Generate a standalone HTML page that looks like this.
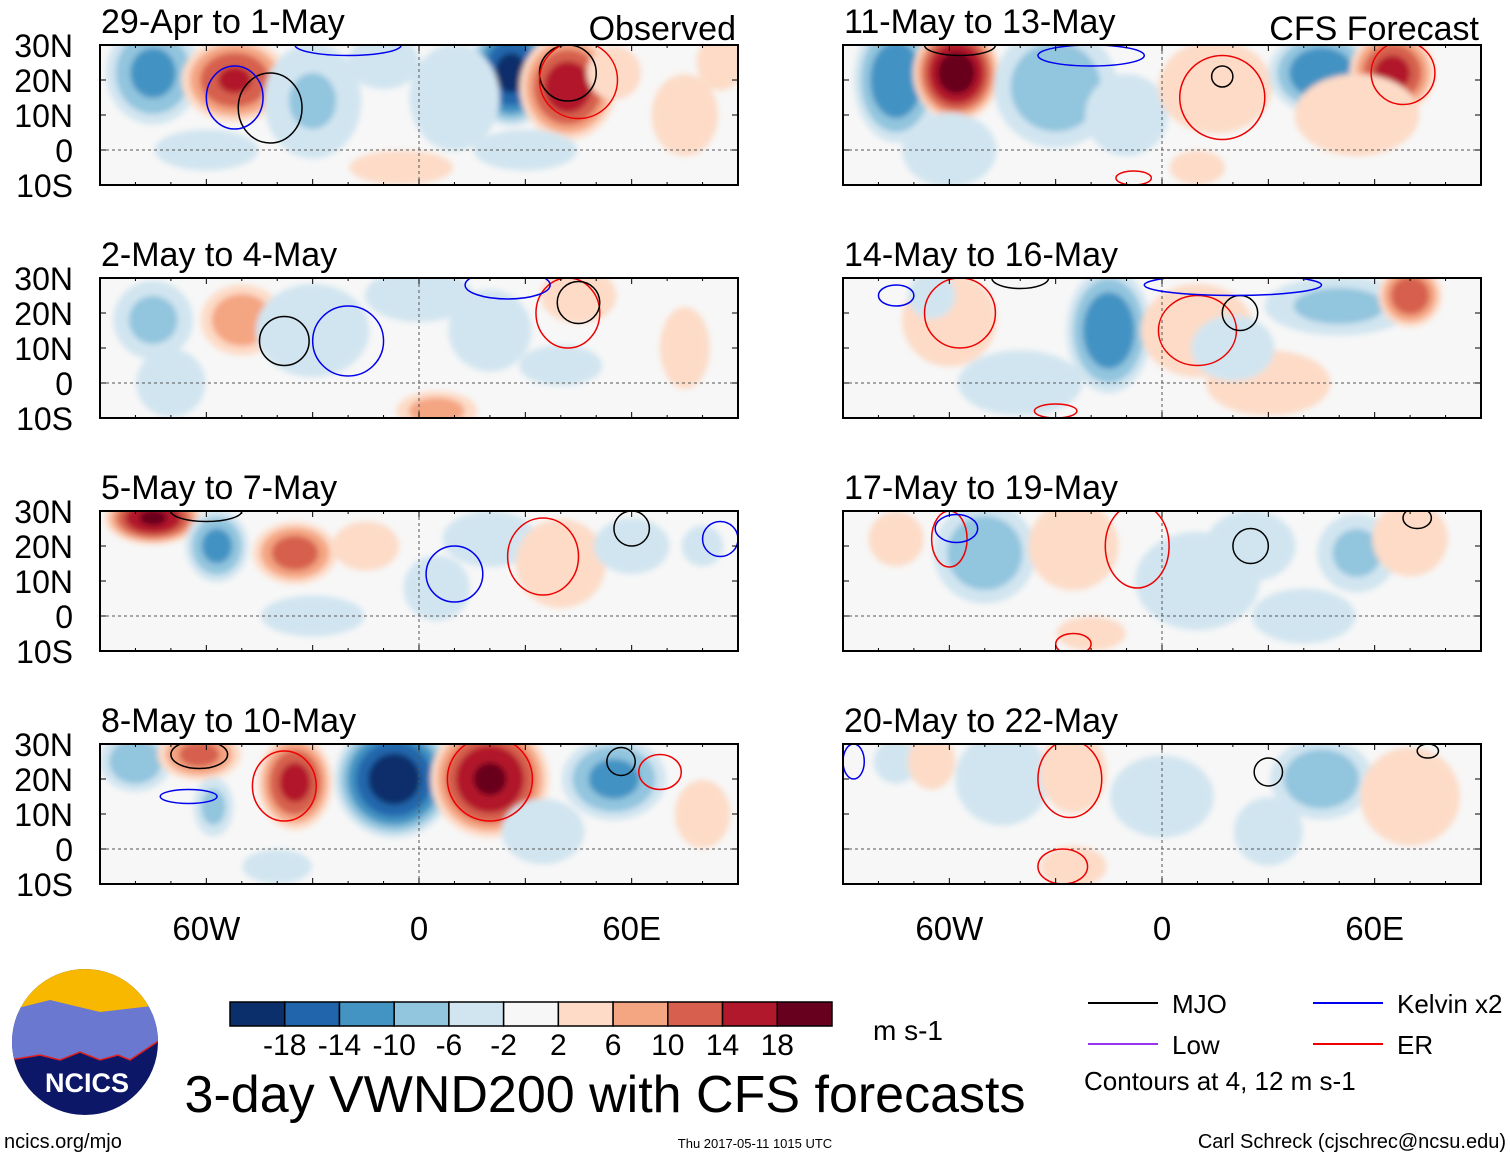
<!DOCTYPE html>
<html><head><meta charset="utf-8">
<style>
body{margin:0;background:#fff;width:1510px;height:1158px;overflow:hidden;font-family:"Liberation Sans",sans-serif;}
svg text{font-family:"Liberation Sans",sans-serif;}
</style></head>
<body>
<svg id="chart" width="1510" height="1158" viewBox="0 0 1510 1158" xmlns="http://www.w3.org/2000/svg">
<defs><filter id="blur" x="-20%" y="-20%" width="140%" height="140%"><feGaussianBlur stdDeviation="3"/></filter></defs>
<g id="panels"></g>
<g id="footer"></g>
</svg>
<script>
const panelTitles=["29-Apr to 1-May","2-May to 4-May","5-May to 7-May","8-May to 10-May","11-May to 13-May","14-May to 16-May","17-May to 19-May","20-May to 22-May"];
// blobs: [lon, lat, value(m/s), radiusLon(deg), radiusLat(deg)]
const blobs0=[[-75,22,-12,9,10],[-52,20,15,10,8],[-30,14,-7,10,12],[-10,25,-5,8,6],[26,22,-20,8,10],[10,15,-5,10,12],[42,18,17,9,10],[55,22,5,6,6],[85,25,6,5,6],[75,10,4,8,10],[-5,-5,3,15,5],[-60,0,-3,15,6],[30,0,-3,15,6]];
const blobs1=[[-75,18,-8,8,8],[-50,18,10,8,7],[-30,15,-6,12,10],[0,25,-5,12,6],[20,15,-4,10,10],[45,25,6,8,6],[5,-8,9,8,4],[-70,0,-3,10,10],[75,10,4,6,10],[40,5,-3,12,6]];
const blobs2=[[-75,28,19,9,5],[-57,20,-12,6,7],[-35,18,13,8,6],[-15,20,4,8,6],[20,22,-6,10,6],[40,15,5,10,10],[60,20,-6,8,6],[5,8,-4,8,8],[80,20,-3,6,6],[-30,0,-3,15,6]];
const blobs3=[[-80,25,-10,7,6],[-62,27,12,8,5],[-58,12,-8,4,6],[-35,19,16,7,9],[-7,20,-21,11,11],[20,20,19,11,11],[55,20,-12,10,8],[35,5,-4,10,8],[-40,-5,-3,10,5],[80,10,3,8,10]];
const blobs4=[[-75,20,-14,8,12],[-58,22,21,8,9],[-30,18,-10,12,12],[-10,10,-4,10,10],[15,18,6,12,10],[45,22,-14,10,8],[65,22,16,8,8],[55,10,4,15,10],[-60,0,-6,10,8],[10,-5,3,8,5]];
const blobs5=[[-60,18,6,10,10],[-65,25,-6,5,5],[-15,15,-14,8,12],[10,15,6,12,10],[50,22,-8,15,6],[70,25,14,6,6],[-40,0,-4,15,8],[30,0,4,15,8],[20,10,-4,10,8]];
const blobs6=[[-75,22,3,8,8],[-50,18,-10,10,10],[-25,20,5,10,10],[10,10,-4,15,12],[25,20,-5,10,8],[55,18,-8,8,8],[70,22,6,8,8],[-20,-5,3,10,5],[40,0,-3,15,8]];
const blobs7=[[-75,25,-5,5,5],[-65,25,6,5,6],[-45,20,-6,10,10],[-25,22,4,8,10],[0,15,-3,15,12],[45,20,-10,10,8],[70,15,4,12,12],[-25,-5,4,8,5],[30,5,-3,10,10]];
const panelBlobs=[blobs0,blobs1,blobs2,blobs3,blobs4,blobs5,blobs6,blobs7];
// contours: [type, lon, lat, rLon, rLat]
const cont0=[["k",-42,12,9,10],["k",42,22,8,8],["b",-52,15,8,9],["r",45,20,11,11],["b",-20,30,15,3]];
const cont1=[["k",-38,12,7,7],["b",-20,12,10,10],["r",42,20,9,10],["k",45,23,6,6],["b",25,28,12,4]];
const cont2=[["r",35,17,10,11],["b",10,12,8,8],["k",60,25,5,5],["k",-60,30,10,3],["b",85,22,5,5]];
const cont3=[["r",-38,18,9,10],["r",20,20,12,12],["k",-62,27,8,4],["b",-65,15,8,2],["r",68,22,6,5],["k",57,25,4,4]];
const cont4=[["r",17,15,12,12],["k",17,21,3,3],["r",68,22,9,9],["k",-57,30,10,3],["b",-20,27,15,3],["r",-8,-8,5,2]];
const cont5=[["r",-57,20,10,10],["k",-40,30,8,3],["r",10,15,11,10],["k",22,20,5,5],["r",-30,-8,6,2],["b",-75,25,5,3],["b",20,28,25,3]];
const cont6=[["r",-60,22,5,8],["b",-58,25,6,4],["r",-7,20,9,12],["k",25,20,5,5],["k",72,28,4,3],["r",-25,-8,5,3]];
const cont7=[["r",-26,20,9,11],["r",-28,-5,7,5],["k",30,22,4,4],["k",75,28,3,2],["b",-87,25,3,5]];
const panelContours=[cont0,cont1,cont2,cont3,cont4,cont5,cont6,cont7];
const levels=[2,6,10,14,18];
const posCols=["#fddbc7","#f4a582","#d6604d","#b2182b","#67001f"];
const negCols=["#d1e5f0","#92c5de","#4393c3","#2166ac","#0a2f6b"];
const cbLabels=["-18","-14","-10","-6","-2","2","6","10","14","18"];
const cbCols=["#0a2f6b","#2166ac","#4393c3","#92c5de","#d1e5f0","#f7f7f7","#fddbc7","#f4a582","#d6604d","#b2182b","#67001f"];
const lineCols={k:"#000000",b:"#0000ee",r:"#ee0000",p:"#9933ee"};
const NS="http://www.w3.org/2000/svg";
function mk(tag,attrs,parent){const e=document.createElementNS(NS,tag);for(const k in attrs)e.setAttribute(k,attrs[k]);if(parent)parent.appendChild(e);return e;}
const root=document.getElementById('panels');
const W=638,H=140,SPREAD=1.6;
panelTitles.forEach((title,i)=>{
  const col=i<4?0:1,row=i%4;
  const X0=col?843:100,Y0=45+row*233;
  const xs=lon=>X0+(lon+90)/180*W;
  const ys=lat=>Y0+(30-lat)/40*H;
  const g=mk('g',{},root);
  
  
  const cp=mk('clipPath',{id:'cp'+i},g);
  mk('rect',{x:X0,y:Y0,width:W,height:H},cp);
  mk('rect',{x:X0,y:Y0,width:W,height:H,fill:'#f7f7f7'},g);
  const fg=mk('g',{'clip-path':'url(#cp'+i+')'},g);
  const sh=mk('g',{filter:'url(#blur)'},fg);
  panelBlobs[i].forEach(b=>{
    const [lon,lat,v,rl,rt]=b;const a=Math.abs(v);
    levels.forEach((t,li)=>{
      if(a<=t)return;
      const s=SPREAD*Math.pow(1-t/a,0.45);
      const e=mk('ellipse',{cx:xs(lon),cy:ys(lat),rx:rl*s*W/180,ry:rt*s*H/40,fill:v>0?posCols[li]:negCols[li]},sh);
      
      
    });
  });
  mk('line',{x1:X0,x2:X0+W,y1:ys(0),y2:ys(0),stroke:'#555','stroke-dasharray':'3,3','stroke-width':1},fg);
  mk('line',{x1:xs(0),x2:xs(0),y1:Y0,y2:Y0+H,stroke:'#555','stroke-dasharray':'3,3','stroke-width':1},fg);
  panelContours[i].forEach(c=>{
    const e=mk('ellipse',{cx:xs(c[1]),cy:ys(c[2]),rx:c[3]*W/180,ry:c[4]*H/40,fill:'none',stroke:lineCols[c[0]],'stroke-width':1.5},fg);
    
    
  });
  mk('rect',{x:X0,y:Y0,width:W,height:H,fill:'none',stroke:'#000','stroke-width':2},g);
  for(let lon=-90;lon<=90;lon+=10){const L=lon%30==0?6:3;
    mk('line',{x1:xs(lon),x2:xs(lon),y1:Y0,y2:Y0+L,stroke:'#000'},g);
    mk('line',{x1:xs(lon),x2:xs(lon),y1:Y0+H,y2:Y0+H-L,stroke:'#000'},g);}
  for(let lat=-10;lat<=30;lat+=10){
    mk('line',{x1:X0,x2:X0+6,y1:ys(lat),y2:ys(lat),stroke:'#000'},g);
    mk('line',{x1:X0+W,x2:X0+W-6,y1:ys(lat),y2:ys(lat),stroke:'#000'},g);}
  const tt=mk('text',{x:X0+1,y:Y0-12,'font-size':34},g);tt.textContent=title;
  
  if(row==0){const st=mk('text',{x:X0+W-2,y:Y0-5,'font-size':34,'text-anchor':'end'},g);st.textContent=col?'CFS Forecast':'Observed';
    }
  if(col==0){["30N","20N","10N","0","10S"].forEach((l,k)=>{const t=mk('text',{x:73,y:Y0+k*35+12,'font-size':32,'text-anchor':'end'},g);t.textContent=l;
    });}
  if(row==3){["60W","0","60E"].forEach((l,k)=>{const t=mk('text',{x:xs(-60+60*k),y:940,'font-size':33,'text-anchor':'middle'},g);t.textContent=l;
    });}
});
const f=document.getElementById('footer');
const cb=mk('g',{},f);
const cbw=602/11;
cbCols.forEach((c,k)=>{mk('rect',{x:230+k*cbw,y:1002,width:cbw,height:24,fill:c,stroke:'#000','stroke-width':1.5},cb);});
cbLabels.forEach((l,k)=>{const t=mk('text',{x:230+(k+1)*cbw,y:1055,'font-size':30,'text-anchor':'middle'},cb);t.textContent=l;});
const u=mk('text',{x:873,y:1040,'font-size':28},f);u.textContent='m s-1';

const ti=mk('text',{x:605,y:1112,'font-size':52,'text-anchor':'middle'},f);ti.textContent='3-day VWND200 with CFS forecasts';

const lg=mk('g',{},f);
[["MJO","k",1088,1003],["Kelvin x2","b",1313,1003],["Low","p",1088,1044],["ER","r",1313,1044]].forEach(e=>{
  mk('line',{x1:e[2],x2:e[2]+70,y1:e[3],y2:e[3],stroke:lineCols[e[1]],'stroke-width':2},lg);
  const t=mk('text',{x:e[2]+84,y:e[3]+10,'font-size':26},lg);t.textContent=e[0];});
const ct=mk('text',{x:1084,y:1090,'font-size':26},lg);ct.textContent='Contours at 4, 12 m s-1';
const lo=mk('g',{},f);
mk('clipPath',{id:'lc'},lo).appendChild(mk('circle',{cx:85,cy:1042,r:73}));
const lgc=mk('g',{'clip-path':'url(#lc)'},lo);
mk('rect',{x:10,y:968,width:150,height:150,fill:'#0d1768'},lgc);
mk('rect',{x:10,y:968,width:150,height:45,fill:'#f8b800'},lgc);
mk('path',{d:'M10,1010 L50,1000 L100,1012 L160,1005 L160,1040 L130,1060 L118,1055 L100,1060 L80,1052 L60,1060 L40,1055 L10,1060 Z',fill:'#6a78d0'},lgc);
mk('path',{d:'M10,1060 L40,1055 L60,1060 L80,1052 L100,1060 L118,1055 L130,1060 L160,1040',fill:'none',stroke:'#e02020','stroke-width':1.5},lgc);
const nt=mk('text',{x:87,y:1092,'font-size':27,'font-weight':'bold',fill:'#fff','text-anchor':'middle'},lo);nt.textContent='NCICS';
const l1=mk('text',{x:4,y:1148,'font-size':20},f);l1.textContent='ncics.org/mjo';

const l2=mk('text',{x:755,y:1148,'font-size':13,'text-anchor':'middle'},f);l2.textContent='Thu 2017-05-11 1015 UTC';

const l3=mk('text',{x:1506,y:1148,'font-size':20,'text-anchor':'end'},f);l3.textContent='Carl Schreck (cjschrec@ncsu.edu)';

</script>
</body></html>
